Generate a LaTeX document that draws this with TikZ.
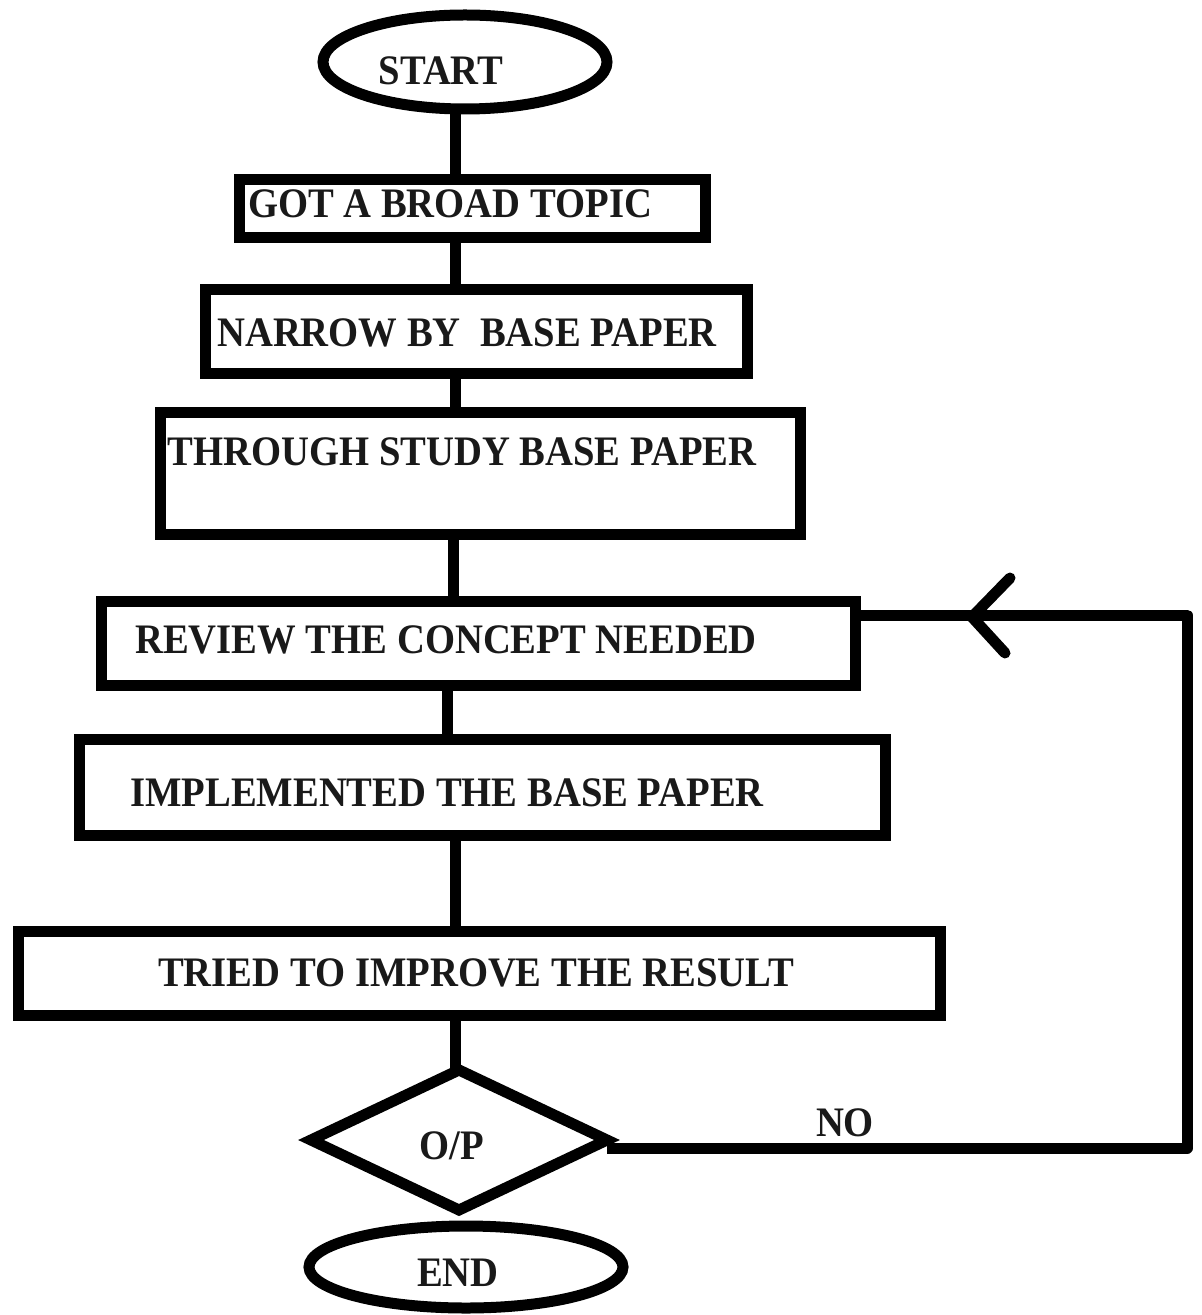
\documentclass[tikz,border=0pt]{standalone}
\usepackage{fontspec}
\setmainfont{Liberation Serif}[FakeStretch=0.92]
\usetikzlibrary{shapes.geometric}
\begin{document}
\begin{tikzpicture}[x=0.5pt,y=-0.5pt,
  lw/.style={line width=5.5pt},
  box/.style={draw,lw,rectangle,inner sep=0pt,outer sep=0pt},
  term/.style={draw,lw,ellipse,inner sep=0pt,outer sep=0pt},
  txt/.style={font=\fontsize{21}{24}\selectfont\bfseries,inner sep=0pt,text=black!90},
  conn/.style={lw,line cap=butt}]
\useasboundingbox (0,0) rectangle (1202,1315);
% terminals
\node[term,minimum width=142pt,minimum height=47pt] (start) at (465,62) {};
\node[txt] (tstart) at (441,71) {START};
\node[term,minimum width=157pt,minimum height=41pt] (end) at (466,1267) {};
\node[txt] (tend) at (458,1273) {END};
% boxes
\node[box,minimum width=233pt,minimum height=29pt] (b1) at (472.5,209) {};
\node[txt] (t1) at (450,204) {GOT A BROAD TOPIC};
\node[box,minimum width=271pt,minimum height=42pt] (b2) at (476.5,331.5) {};
\node[txt] (t2) at (467,333) {NARROW BY\ \ BASE PAPER};
\node[box,minimum width=320pt,minimum height=61pt] (b3) at (480.5,473.5) {};
\node[txt] (t3) at (462,452) {THROUGH STUDY BASE PAPER};
\node[box,minimum width=377pt,minimum height=42pt] (b4) at (478,643) {};
\node[txt] (t4) at (446,640) {REVIEW THE CONCEPT NEEDED};
\node[box,minimum width=403pt,minimum height=48pt] (b5) at (482,787.5) {};
\node[txt] (t5) at (447,793) {IMPLEMENTED THE BASE PAPER};
\node[box,minimum width=461pt,minimum height=42pt] (b6) at (479,973) {};
\node[txt] (t6) at (476,973) {TRIED TO IMPROVE THE RESULT};
% decision
\node[draw,lw,diamond,inner sep=0pt,outer sep=0pt,minimum width=148pt,minimum height=70pt] (dec) at (459,1140) {};
\node[txt] (tdec) at (452,1146) {O/P};
\node[txt] (tno) at (845,1123) {NO};
% connectors
\draw[conn] (start.south -| 455,0) -- (b1.north -| 455,0);
\draw[conn] (b1.south -| 455,0) -- (b2.north -| 455,0);
\draw[conn] (b2.south -| 455,0) -- (b3.north -| 455,0);
\draw[conn] (b3.south -| 453,0) -- (b4.north -| 453,0);
\draw[conn] (b4.south -| 447,0) -- (b5.north -| 447,0);
\draw[conn] (b5.south -| 455,0) -- (b6.north -| 455,0);
\draw[conn] (b6.south -| 455,0) -- (dec.north -| 455,0);
% loop back
\coordinate (c1) at (1187,1148);
\coordinate (c2) at (1187,615);
\coordinate (tip) at (972,617);
\draw[conn,line join=round] (dec.east |- c1) -- (c1) -- (c2) -- (c2 -| b4.east);
\draw[lw,line cap=round,line join=round] (1010,578) -- (tip) -- (1005,653);
\end{tikzpicture}
\end{document}
